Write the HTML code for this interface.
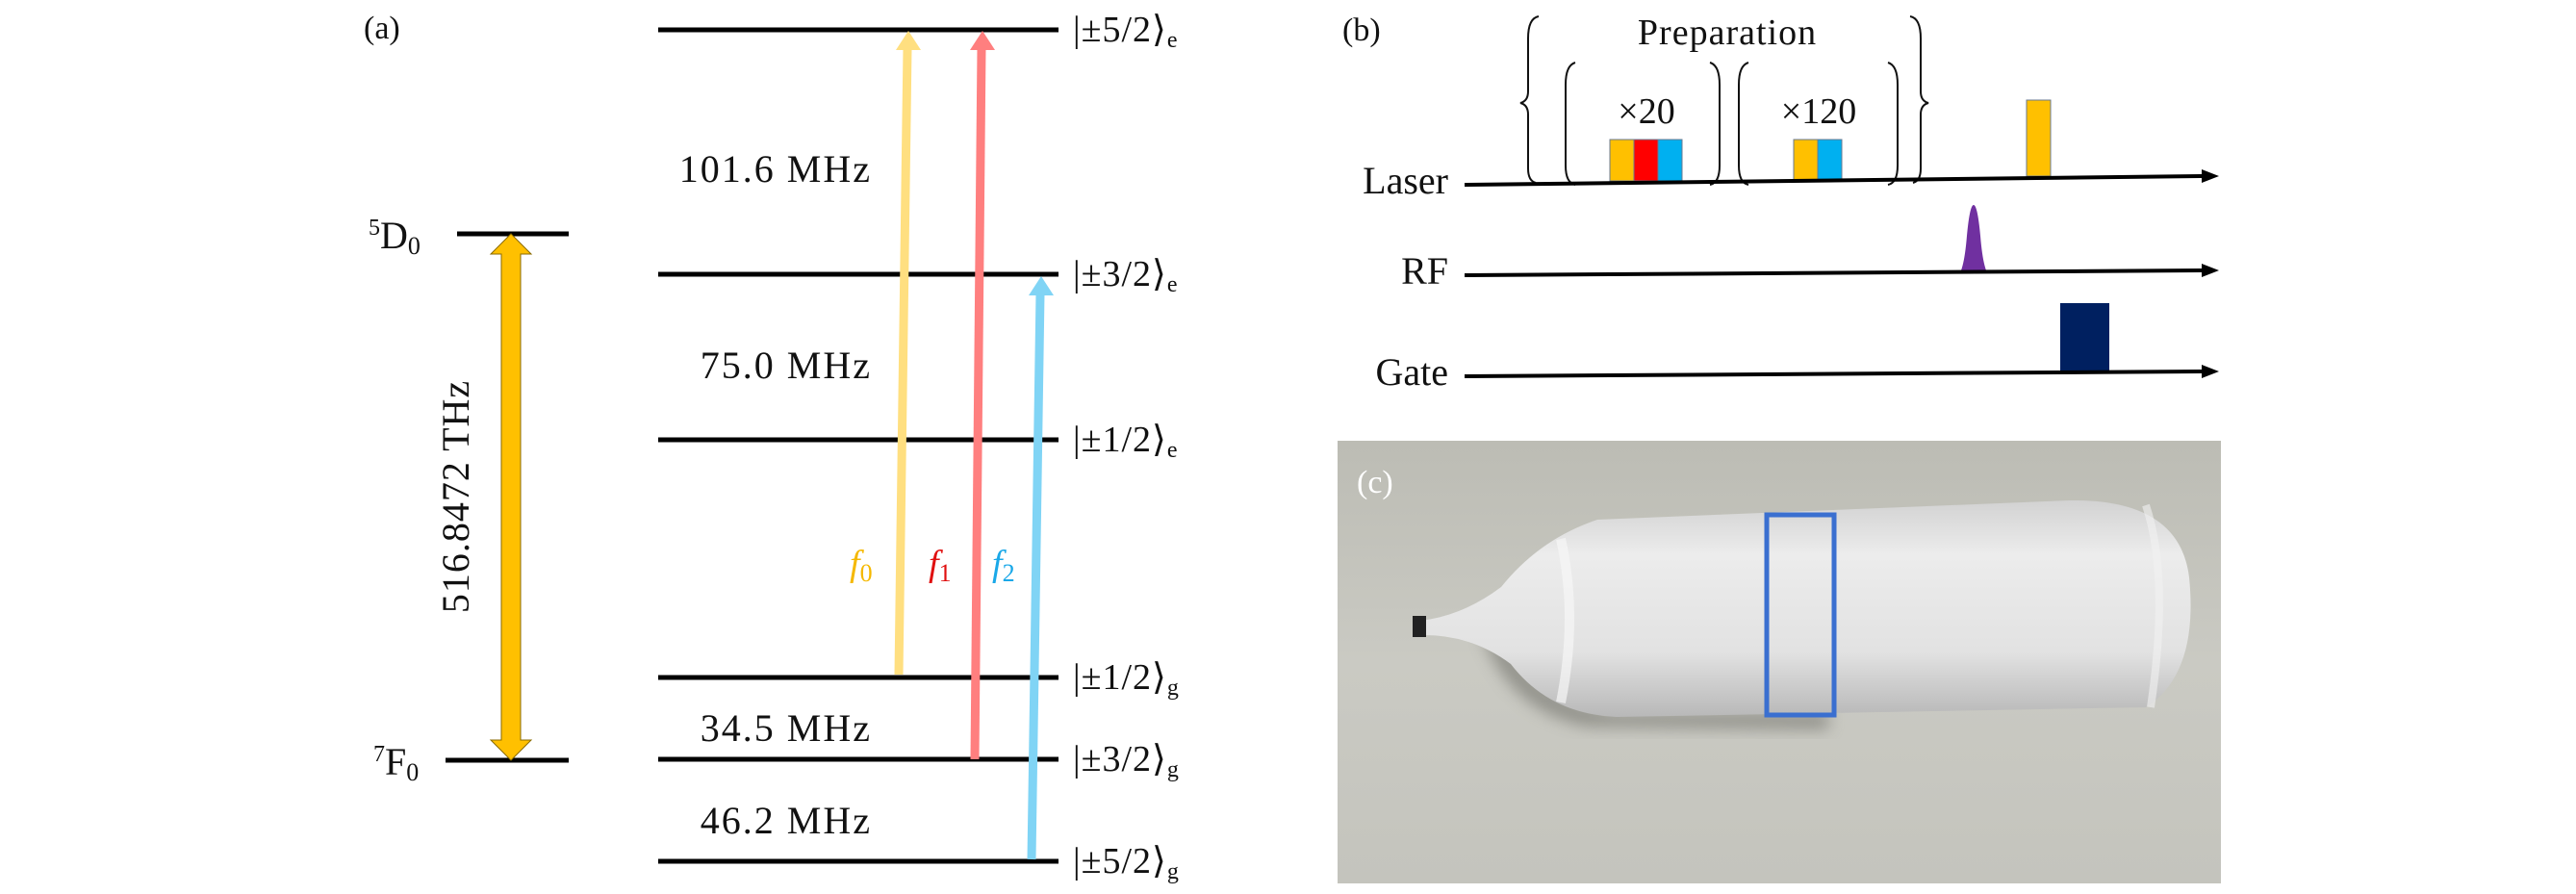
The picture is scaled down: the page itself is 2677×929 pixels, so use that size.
<!DOCTYPE html>
<html><head><meta charset="utf-8"><style>
html,body{margin:0;padding:0;background:#fff;}
svg{display:block;}
text{font-family:"Liberation Serif",serif;fill:#111;}
</style></head><body>
<svg width="2677" height="929" viewBox="0 0 2677 929" xmlns="http://www.w3.org/2000/svg">
<defs>
<linearGradient id="bg" x1="0" y1="0" x2="0" y2="1">
<stop offset="0" stop-color="#bcbcb4"/><stop offset="0.5" stop-color="#cacac3"/><stop offset="1" stop-color="#c4c4bd"/>
</linearGradient>
<linearGradient id="bot" x1="0" y1="0" x2="0" y2="1">
<stop offset="0" stop-color="#d2d2d2"/><stop offset="0.25" stop-color="#ececec"/><stop offset="0.7" stop-color="#e2e2e2"/><stop offset="1" stop-color="#b8b8b8"/>
</linearGradient>
<filter id="blur"><feGaussianBlur stdDeviation="8"/></filter>
</defs>

<!-- Panel a -->
<text x="378" y="40" font-size="34">(a)</text>
<g stroke="#000" stroke-width="5">
<line x1="684" y1="31" x2="1100" y2="31"/>
<line x1="684" y1="285" x2="1100" y2="285"/>
<line x1="684" y1="457" x2="1100" y2="457"/>
<line x1="684" y1="704" x2="1100" y2="704"/>
<line x1="684" y1="789" x2="1100" y2="789"/>
<line x1="684" y1="895" x2="1100" y2="895"/>
<line x1="475" y1="243" x2="591" y2="243"/>
<line x1="463" y1="790" x2="591" y2="790"/>
</g>
<polygon points="531,243 552,264 541,264 541,769 552,769 531,790 510,769 521,769 521,264 510,264" fill="#ffc000" stroke="#8a6a00" stroke-width="1"/>
<text transform="translate(487,516) rotate(-90)" text-anchor="middle" font-size="40" letter-spacing="1">516.8472 THz</text>
<text x="383" y="258" font-size="40"><tspan font-size="24" dy="-14">5</tspan><tspan dy="14">D</tspan><tspan font-size="26" dy="6">0</tspan></text>
<text x="388" y="805" font-size="40"><tspan font-size="24" dy="-14">7</tspan><tspan dy="14">F</tspan><tspan font-size="26" dy="6">0</tspan></text>

<g font-size="40" letter-spacing="2" text-anchor="end">
<text x="906" y="189">101.6 MHz</text>
<text x="906" y="393">75.0 MHz</text>
<text x="906" y="770">34.5 MHz</text>
<text x="906" y="866">46.2 MHz</text>
</g>

<line x1="934" y1="701" x2="943" y2="50" stroke="#ffdf80" stroke-width="9"/>
<polygon points="944,32 957,52 931,52" fill="#ffdf80"/>
<line x1="1013" y1="789" x2="1020" y2="50" stroke="#ff7f7f" stroke-width="9"/>
<polygon points="1021,32 1034,52 1008,52" fill="#ff7f7f"/>
<line x1="1072" y1="893" x2="1081" y2="305" stroke="#80d4f5" stroke-width="9"/>
<polygon points="1082,287 1095,307 1069,307" fill="#80d4f5"/>
<text x="883" y="598" font-size="38" font-style="italic" style="fill:#f5b800">f<tspan font-style="normal" font-size="26" dy="6">0</tspan></text>
<text x="965" y="598" font-size="38" font-style="italic" style="fill:#e01010">f<tspan font-style="normal" font-size="26" dy="6">1</tspan></text>
<text x="1031" y="598" font-size="38" font-style="italic" style="fill:#1aa8e8">f<tspan font-style="normal" font-size="26" dy="6">2</tspan></text>

<g font-size="38" letter-spacing="1">
<text x="1115" y="43">|±5/2⟩<tspan font-size="24" dy="6">e</tspan></text>
<text x="1115" y="297">|±3/2⟩<tspan font-size="24" dy="6">e</tspan></text>
<text x="1115" y="469">|±1/2⟩<tspan font-size="24" dy="6">e</tspan></text>
<text x="1115" y="716">|±1/2⟩<tspan font-size="24" dy="6">g</tspan></text>
<text x="1115" y="801">|±3/2⟩<tspan font-size="24" dy="6">g</tspan></text>
<text x="1115" y="907">|±5/2⟩<tspan font-size="24" dy="6">g</tspan></text>
</g>

<!-- Panel b -->
<text x="1395" y="42" font-size="34">(b)</text>
<text x="1795" y="46" font-size="38" text-anchor="middle" letter-spacing="1">Preparation</text>
<g fill="none" stroke="#111" stroke-width="2">
<path d="M1599,17 Q1588,19 1588,40 L1588,95 Q1588,105 1580,107 Q1588,109 1588,119 L1588,175 Q1588,188 1596,190"/>
<path d="M1985,17 Q1996,19 1996,40 L1996,95 Q1996,105 2004,107 Q1996,109 1996,119 L1996,175 Q1996,188 1988,190"/>
<path d="M1637,65 Q1627,68 1627,88 L1627,172 Q1627,190 1637,192"/>
<path d="M1777,65 Q1787,68 1787,88 L1787,172 Q1787,190 1777,192"/>
<path d="M1817,65 Q1807,68 1807,88 L1807,172 Q1807,190 1817,192"/>
<path d="M1962,65 Q1972,68 1972,88 L1972,172 Q1972,190 1962,192"/>
</g>
<text x="1711" y="128" font-size="38" text-anchor="middle">×20</text>
<text x="1890" y="128" font-size="38" text-anchor="middle">×120</text>
<g stroke="#6a7a90" stroke-width="1">
<rect x="1673" y="145" width="25" height="43" fill="#ffc000"/>
<rect x="1698" y="145" width="25" height="43" fill="#ff0000"/>
<rect x="1723" y="145" width="25" height="43" fill="#00b0f0"/>
<rect x="1864" y="145" width="25" height="43" fill="#ffc000"/>
<rect x="1889" y="145" width="25" height="43" fill="#00b0f0"/>
<rect x="2106" y="104" width="25" height="79" fill="#ffc000"/>
</g>
<path d="M2038,281 Q2042,270 2044,245 Q2047,213 2051,213 Q2055,213 2058,245 Q2060,270 2064,281 Z" fill="#7030a0"/>
<rect x="2141" y="315" width="51" height="71" fill="#002060"/>
<g stroke="#000" stroke-width="4">
<line x1="1522" y1="192" x2="2290" y2="183"/>
<line x1="1522" y1="286" x2="2290" y2="281"/>
<line x1="1522" y1="391" x2="2290" y2="386"/>
</g>
<polygon points="2306,183 2288,176 2288,190" fill="#000"/>
<polygon points="2306,281 2288,274 2288,288" fill="#000"/>
<polygon points="2306,386 2288,379 2288,393" fill="#000"/>
<g font-size="40" text-anchor="end">
<text x="1505" y="201">Laser</text>
<text x="1505" y="295">RF</text>
<text x="1505" y="400">Gate</text>
</g>

<!-- Panel c photo -->
<rect x="1390" y="458" width="918" height="460" fill="url(#bg)"/>
<path d="M1540,660 Q1570,740 1650,755 L1900,758 L1900,740 L1680,740 Q1600,730 1570,670 Z" fill="#6e6e68" opacity="0.6" filter="url(#blur)"/>
<path d="M1476,645 Q1520,640 1560,610 Q1600,560 1660,540 L2150,520 Q2265,518 2275,600 Q2285,700 2230,735 L1680,745 Q1610,742 1570,690 Q1530,660 1480,660 Z" fill="url(#bot)"/>
<path d="M1622,560 Q1640,640 1622,730" stroke="#f6f6f6" stroke-width="10" fill="none" opacity="0.7"/>
<path d="M2230,525 Q2255,600 2235,735" stroke="#f2f2f2" stroke-width="8" fill="none" opacity="0.6"/>
<rect x="1468" y="640" width="14" height="22" fill="#222"/>
<rect x="1836" y="535" width="70" height="208" fill="none" stroke="#3a6fd0" stroke-width="5"/>
<text x="1410" y="512" font-size="34" style="fill:#fff">(c)</text>
</svg>
</body></html>
